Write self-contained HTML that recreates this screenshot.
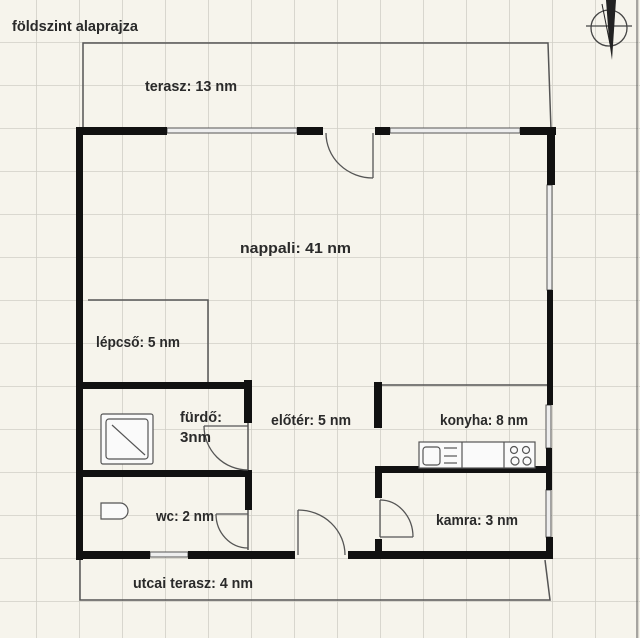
<!DOCTYPE html>
<html><head><style>
html,body{margin:0;padding:0;background:#f6f4ec}
svg{display:block}
text{font-family:"Liberation Sans",sans-serif;font-weight:bold;fill:#2a2a2a;font-size:15px}
</style></head><body>
<svg width="640" height="638" viewBox="0 0 640 638" xmlns="http://www.w3.org/2000/svg">
<defs>
<pattern id="g" x="-7" y="-1" width="43" height="43" patternUnits="userSpaceOnUse">
<path d="M0 0H43M0 0V43" stroke="#d0cfc6" stroke-width="1.6" fill="none"/>
</pattern>
</defs>
<rect width="640" height="638" fill="#f6f4ec"/>
<rect width="640" height="638" fill="url(#g)"/>
<line x1="637" y1="0" x2="637" y2="638" stroke="#555" stroke-width="1"/>
<!-- compass -->
<circle cx="609" cy="28" r="18" fill="none" stroke="#444" stroke-width="1.3"/>
<line x1="586" y1="26" x2="632" y2="26" stroke="#444" stroke-width="1.2"/>
<polygon points="606,0 616,0 612,60 609,40" fill="#222"/>
<line x1="602" y1="4" x2="610" y2="44" stroke="#222" stroke-width="1"/>

<text x="12" y="31" textLength="126" lengthAdjust="spacingAndGlyphs">földszint alaprajza</text>

<g fill="none" stroke="#555" stroke-width="1.5">
<polyline points="83,130 83,43 548,43 551,130"/>
<polyline points="80,560 80,600 550,600 545,560"/>
<polyline points="88,300 208,300 208,382"/>
<line x1="377" y1="385" x2="548" y2="385"/>
<line x1="248" y1="422" x2="248" y2="470"/>
<line x1="248" y1="510" x2="248" y2="550"/>
</g>

<g stroke="#555" stroke-width="1" fill="#eee">
<rect x="167" y="128" width="130" height="5"/>
<rect x="390" y="128" width="130" height="5"/>
<rect x="547" y="185" width="5" height="105"/>
<rect x="546" y="405" width="5" height="43"/>
<rect x="546" y="490" width="5" height="47"/>
<rect x="150" y="552" width="38" height="5"/>
</g>

<g fill="#111">
<rect x="76" y="127" width="91" height="8"/>
<rect x="297" y="127" width="26" height="8"/>
<rect x="375" y="127" width="15" height="8"/>
<rect x="520" y="127" width="36" height="8"/>
<rect x="76" y="127" width="7" height="433"/>
<rect x="547" y="127" width="8" height="58"/>
<rect x="547" y="290" width="6" height="115"/>
<rect x="546" y="448" width="6" height="42"/>
<rect x="546" y="537" width="7" height="20"/>
<rect x="76" y="551" width="74" height="8"/>
<rect x="188" y="551" width="107" height="8"/>
<rect x="348" y="551" width="205" height="8"/>
<rect x="76" y="382" width="175" height="7"/>
<rect x="244" y="380" width="8" height="43"/>
<rect x="76" y="470" width="176" height="7"/>
<rect x="245" y="470" width="7" height="40"/>
<rect x="374" y="382" width="8" height="46"/>
<rect x="375" y="466" width="177" height="7"/>
<rect x="375" y="466" width="7" height="32"/>
<rect x="375" y="539" width="7" height="18"/>
</g>

<g fill="none" stroke="#555" stroke-width="1.3">
<line x1="373" y1="133" x2="373" y2="178"/>
<path d="M326 133 A47 45 0 0 0 373 178"/>
<line x1="204" y1="426" x2="248" y2="426"/>
<path d="M204 426 A44 44 0 0 0 248 470"/>
<line x1="216" y1="514" x2="248" y2="514"/>
<path d="M216 514 A32 34 0 0 0 248 548"/>
<line x1="298" y1="510" x2="298" y2="555"/>
<path d="M298 510 A47 45 0 0 1 345 555"/>
<line x1="380" y1="500" x2="380" y2="537"/>
<line x1="380" y1="537" x2="413" y2="537"/>
<path d="M380 500 A33 37 0 0 1 413 537"/>
</g>

<g fill="#fafafa" stroke="#555" stroke-width="1.2">
<rect x="101" y="414" width="52" height="50" rx="2"/>
<rect x="106" y="419" width="42" height="40" rx="3"/>
<line x1="112" y1="425" x2="145" y2="455"/>
<path d="M101 503 H120 A8 8 0 0 1 120 519 H101 Z"/>
<rect x="419" y="442" width="116" height="26"/>
<rect x="423" y="447" width="17" height="18" rx="3"/>
<line x1="444" y1="448" x2="457" y2="448"/>
<line x1="444" y1="456" x2="457" y2="456"/>
<line x1="444" y1="463" x2="457" y2="463"/>
<line x1="462" y1="442" x2="462" y2="468"/>
<line x1="504" y1="442" x2="504" y2="468"/>
<circle cx="514" cy="450" r="3.5"/>
<circle cx="526" cy="450" r="3.5"/>
<circle cx="515" cy="461" r="4"/>
<circle cx="527" cy="461" r="4"/>
</g>

<text x="145" y="91" textLength="92" lengthAdjust="spacingAndGlyphs">terasz: 13 nm</text>
<text x="240" y="253" textLength="111" lengthAdjust="spacingAndGlyphs">nappali: 41 nm</text>
<text x="96" y="347" textLength="84" lengthAdjust="spacingAndGlyphs">lépcső: 5 nm</text>
<text x="180" y="422" textLength="42" lengthAdjust="spacingAndGlyphs">fürdő:</text>
<text x="180" y="442" textLength="31" lengthAdjust="spacingAndGlyphs">3nm</text>
<text x="271" y="425" textLength="80" lengthAdjust="spacingAndGlyphs">előtér: 5 nm</text>
<text x="440" y="425" textLength="88" lengthAdjust="spacingAndGlyphs">konyha: 8 nm</text>
<text x="156" y="521" textLength="58" lengthAdjust="spacingAndGlyphs">wc: 2 nm</text>
<text x="436" y="525" textLength="82" lengthAdjust="spacingAndGlyphs">kamra: 3 nm</text>
<text x="133" y="588" textLength="120" lengthAdjust="spacingAndGlyphs">utcai terasz: 4 nm</text>
</svg>
</body></html>
